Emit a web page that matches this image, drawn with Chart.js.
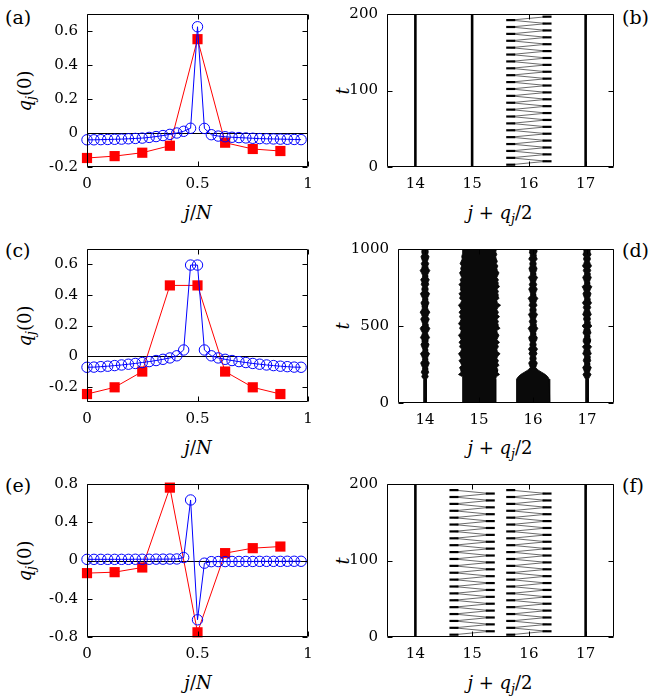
<!DOCTYPE html>
<html><head><meta charset="utf-8">
<script src="https://cdn.jsdelivr.net/npm/chart.js@4"></script>
<style>
html,body{margin:0;padding:0;background:#fff;}
#wrap{position:relative;width:656px;height:698px;overflow:hidden;background:#fff;font-family:'DejaVu Serif',serif;color:#000;}
.pl{position:absolute;font-size:19px;line-height:1;transform:translateY(-50%);white-space:nowrap;}
.yt{position:absolute;font-size:18px;line-height:1;transform:translate(-50%,-50%) rotate(-90deg);white-space:nowrap;}
.xt{position:absolute;font-size:18px;line-height:1;transform:translate(-50%,-50%);white-space:nowrap;}
sub{font-size:0.7em;vertical-align:-0.3em;line-height:0;}
</style></head>
<body>
<div id="wrap">
<div class="pl" style="left:5px;top:17px">(a)</div>
<div class="pl" style="left:622px;top:17px">(b)</div>
<div class="pl" style="left:5px;top:250px">(c)</div>
<div class="pl" style="left:622px;top:250px">(d)</div>
<div class="pl" style="left:5px;top:485px">(e)</div>
<div class="pl" style="left:622px;top:485px">(f)</div>
<div class="yt" style="left:25px;top:91px"><i>q<sub>j</sub></i>(0)</div>
<div class="yt" style="left:25px;top:326px"><i>q<sub>j</sub></i>(0)</div>
<div class="yt" style="left:25px;top:561px"><i>q<sub>j</sub></i>(0)</div>
<div class="yt" style="left:343px;top:91px"><i>t</i></div>
<div class="yt" style="left:343px;top:326px"><i>t</i></div>
<div class="yt" style="left:343px;top:561px"><i>t</i></div>
<div class="xt" style="left:198px;top:213px"><i>j</i>/<i>N</i></div>
<div class="xt" style="left:198px;top:448px"><i>j</i>/<i>N</i></div>
<div class="xt" style="left:198px;top:683px"><i>j</i>/<i>N</i></div>
<div class="xt" style="left:500px;top:213px"><i>j</i> + <i>q<sub>j</sub></i>/2</div>
<div class="xt" style="left:500px;top:448px"><i>j</i> + <i>q<sub>j</sub></i>/2</div>
<div class="xt" style="left:500px;top:683px"><i>j</i> + <i>q<sub>j</sub></i>/2</div>
</div>
<script>
// ---------------- DATA ----------------
// left column: initial profiles q_j(0) versus j/N
const xRed = [0, 0.125, 0.25, 0.375, 0.5, 0.625, 0.75, 0.875];
const xBlue = [0, 0.03125, 0.0625, 0.09375, 0.125, 0.15625, 0.1875, 0.21875, 0.25, 0.28125, 0.3125, 0.34375, 0.375, 0.40625, 0.4375, 0.46875,
               0.5, 0.53125, 0.5625, 0.59375, 0.625, 0.65625, 0.6875, 0.71875, 0.75, 0.78125, 0.8125, 0.84375, 0.875, 0.90625, 0.9375, 0.96875];

const aRed  = [-0.147, -0.136, -0.116, -0.075, 0.552, -0.057, -0.094, -0.106];
const aBlue = [-0.040, -0.040, -0.039, -0.038, -0.037, -0.036, -0.034, -0.032, -0.030, -0.026, -0.021, -0.015, -0.008, 0.000, 0.010, 0.028,
               0.625, 0.027, -0.010, -0.018, -0.022, -0.025, -0.027, -0.029, -0.031, -0.033, -0.034, -0.035, -0.036, -0.037, -0.038, -0.039];

const cRed  = [-0.248, -0.204, -0.101, 0.462, 0.462, -0.101, -0.204, -0.248];
const cBlue = [-0.073, -0.072, -0.069, -0.066, -0.062, -0.058, -0.053, -0.048, -0.042, -0.036, -0.029, -0.021, -0.012, 0.002, 0.040, 0.595,
               0.595, 0.040, 0.002, -0.012, -0.021, -0.029, -0.036, -0.042, -0.048, -0.053, -0.058, -0.062, -0.066, -0.069, -0.072, -0.073];

const eRed  = [-0.132, -0.122, -0.073, 0.762, -0.751, 0.077, 0.129, 0.146];
const eBlue = [0.012, 0.012, 0.012, 0.012, 0.012, 0.012, 0.012, 0.013, 0.013, 0.013, 0.014, 0.014, 0.015, 0.016, 0.031, 0.633,
               -0.620, -0.028, -0.012, -0.011, -0.011, -0.010, -0.010, -0.010, -0.010, -0.009, -0.009, -0.009, -0.009, -0.008, -0.008, -0.008];

const leftXTicks = [0, 0.5, 1];
const aYTicks = [-0.2, 0, 0.2, 0.4, 0.6];
const cYTicks = [-0.2, 0, 0.2, 0.4, 0.6];
const eYTicks = [-0.8, -0.4, 0, 0.4, 0.8];
const rightXTicks = [14, 15, 16, 17];
const bYTicks = [0, 100, 200];
const dYTicks = [0, 500, 1000];
const fYTicks = [0, 100, 200];

// right column: trajectories j + q_j/2 versus t
// (b) turning points of the oscillating site near 16
const bTurnT = [3, 7.5, 12, 16.5, 21, 25.5, 30, 34.5, 39, 43.5, 48, 52.5, 57, 61.5, 66, 70.5, 75, 79.5, 84, 88.5, 93, 97.5,
                102, 106.5, 111, 115.5, 120, 124.5, 129, 133.5, 138, 142.5, 147, 151.5, 156, 160.5, 165, 169.5, 174, 178.5, 183, 187.5, 192, 196.5];
const b16Extremes = [15.68, 16.32];
const bStill = [14, 15, 17];          // quiet sites
const bStillT = [0, 200];

// (f) turning points of the two oscillating sites near 15 and 16
const fTurnT = [3, 7.5, 12, 16.5, 21, 25.5, 30, 34.5, 39, 43.5, 48, 52.5, 57, 61.5, 66, 70.5, 75, 79.5, 84, 88.5, 93, 97.5,
                102, 106.5, 111, 115.5, 120, 124.5, 129, 133.5, 138, 142.5, 147, 151.5, 156, 160.5, 165, 169.5, 174, 178.5, 183, 187.5, 192];
const f15Extremes = [14.68, 15.32];
const f16Extremes = [15.68, 16.32];
const fStill = [14, 17];
const fStillT = [0, 200];

// (d) envelopes of the four sites over t = 0..1000
const dT = [0, 140, 155, 170, 185, 200, 215, 230, 245, 260, 275, 290, 305, 320, 335, 350, 365, 380, 395, 410, 425, 440, 455, 470, 485,
            500, 515, 530, 545, 560, 575, 590, 605, 620, 635, 650, 665, 680, 695, 710, 725, 740, 755, 770, 785, 800, 815, 830, 845, 860,
            875, 890, 905, 920, 935, 950, 965, 980, 995, 1000];
const d14HalfWidth = [0.025,0.025,0.025,0.06,0.045,0.07,0.05,0.045,0.065,0.08,
                      0.05,0.045,0.06,0.085,0.05,0.04,0.06,0.075,0.05,0.055,
                      0.085,0.06,0.045,0.07,0.09,0.055,0.045,0.06,0.08,0.05,
                      0.065,0.09,0.06,0.045,0.055,0.075,0.05,0.045,0.065,0.085,
                      0.05,0.06,0.045,0.07,0.055,0.08,0.05,0.045,0.065,0.09,
                      0.06,0.05,0.07,0.045,0.06,0.075,0.05,0.06,0.055,0.05];
const d15Left = [14.70,14.70,14.70,14.69,14.62,14.67,14.66,14.64,14.68,14.66,
                 14.63,14.67,14.65,14.62,14.66,14.68,14.64,14.66,14.63,14.67,
                 14.65,14.62,14.66,14.67,14.64,14.66,14.62,14.65,14.67,14.64,
                 14.66,14.63,14.67,14.65,14.62,14.66,14.68,14.64,14.66,14.63,
                 14.67,14.65,14.66,14.63,14.67,14.65,14.68,14.66,14.64,14.67,
                 14.66,14.68,14.65,14.67,14.69,14.68,14.69,14.70,14.69,14.70];
const d15Right = [15.31,15.31,15.31,15.32,15.38,15.34,15.35,15.33,15.37,15.34,
                  15.36,15.33,15.35,15.39,15.34,15.33,15.36,15.34,15.38,15.33,
                  15.35,15.37,15.34,15.33,15.39,15.35,15.34,15.36,15.33,15.38,
                  15.34,15.36,15.33,15.35,15.40,15.34,15.33,15.37,15.35,15.34,
                  15.36,15.33,15.38,15.35,15.34,15.36,15.33,15.35,15.37,15.34,
                  15.33,15.35,15.32,15.34,15.32,15.31,15.33,15.31,15.32,15.31];
const d16HalfWidth = [0.31,0.31,0.30,0.275,0.23,0.16,0.09,0.05,0.065,0.08,
                      0.05,0.06,0.045,0.075,0.055,0.085,0.05,0.06,0.045,0.07,
                      0.08,0.05,0.045,0.065,0.09,0.055,0.05,0.07,0.045,0.06,
                      0.085,0.05,0.06,0.045,0.075,0.05,0.065,0.09,0.05,0.045,
                      0.06,0.08,0.05,0.07,0.045,0.06,0.085,0.05,0.045,0.065,
                      0.075,0.05,0.06,0.045,0.08,0.055,0.05,0.07,0.06,0.05];
const d17HalfWidth = [0.025,0.025,0.025,0.05,0.075,0.045,0.06,0.08,0.05,0.045,
                      0.07,0.055,0.045,0.08,0.06,0.05,0.085,0.045,0.06,0.07,
                      0.05,0.045,0.075,0.06,0.05,0.09,0.055,0.045,0.065,0.05,
                      0.08,0.06,0.045,0.07,0.05,0.085,0.055,0.045,0.06,0.075,
                      0.05,0.065,0.09,0.05,0.045,0.06,0.08,0.055,0.045,0.07,
                      0.05,0.085,0.06,0.045,0.065,0.05,0.075,0.055,0.06,0.05];
const dCenters = {s14: 14.0, s16: 16.0, s17: 17.0};

// ---------------- HELPERS ----------------
const FONT = {family: "'DejaVu Serif', serif", size: 15};

const framePlugin = {
  id: 'frame',
  beforeDatasetsDraw(chart, args, opts) {
    if (!opts.zero) return;
    const {ctx, chartArea: a} = chart;
    const y = Math.round(chart.scales.y.getPixelForValue(0)) + 0.5;
    ctx.save();
    ctx.strokeStyle = '#000'; ctx.lineWidth = 1;
    ctx.beginPath(); ctx.moveTo(a.left, y); ctx.lineTo(a.right, y); ctx.stroke();
    ctx.restore();
  },
  afterDatasetsDraw(chart) {
    const {ctx, chartArea: a, scales} = chart;
    const L = Math.round(a.left) + 0.5, R = Math.round(a.right) - 0.5;
    const T = Math.round(a.top) + 0.5, B = Math.round(a.bottom) - 0.5;
    const len = 5;
    ctx.save();
    ctx.strokeStyle = '#000'; ctx.lineWidth = 1;
    ctx.beginPath();
    ctx.rect(L, T, R - L, B - T);
    scales.x.ticks.forEach(t => {
      const p = Math.round(scales.x.getPixelForValue(t.value)) + 0.5;
      ctx.moveTo(p, B); ctx.lineTo(p, B - len);
      ctx.moveTo(p, T); ctx.lineTo(p, T + len);
    });
    scales.y.ticks.forEach(t => {
      const p = Math.round(scales.y.getPixelForValue(t.value)) + 0.5;
      ctx.moveTo(L, p); ctx.lineTo(L + len, p);
      ctx.moveTo(R, p); ctx.lineTo(R - len, p);
    });
    ctx.stroke();
    ctx.restore();
  }
};

function scaleCfg(axis, min, max, tickVals, size) {
  return {
    type: 'linear', min, max,
    grid: {display: false, drawTicks: false},
    border: {display: false},
    afterBuildTicks: s => { s.ticks = tickVals.map(v => ({value: v})); },
    afterFit: s => {
      if (axis === 'x') s.height = size; else s.width = size;
      s.paddingLeft = 0; s.paddingRight = 0; s.paddingTop = 0; s.paddingBottom = 0;
    },
    ticks: {autoSkip: false, maxRotation: 0, minRotation: 0, padding: axis === 'x' ? 8 : 9,
            color: '#000', font: FONT, callback: v => String(v)}
  };
}

function makeChart(g, xr, yr, xTicks, yTicks, datasets, zero) {
  const W = g.yW + g.w + 12, H = 10 + g.h + 30;
  const cv = document.createElement('canvas');
  cv.width = W; cv.height = H;
  cv.style.cssText = `position:absolute;left:${g.l - g.yW}px;top:${g.t - 10}px;width:${W}px;height:${H}px;`;
  document.getElementById('wrap').appendChild(cv);
  return new Chart(cv, {
    type: 'line',
    data: {datasets},
    options: {
      responsive: false, animation: false, events: [],
      layout: {padding: {top: 10, right: 12, left: 0, bottom: 0}},
      plugins: {legend: {display: false}, tooltip: {enabled: false}, frame: {zero}},
      scales: {
        x: scaleCfg('x', xr[0], xr[1], xTicks, 30),
        y: scaleCfg('y', yr[0], yr[1], yTicks, g.yW)
      }
    },
    plugins: [framePlugin]
  });
}

function blueSet(vals) {
  return {data: xBlue.map((x, i) => ({x, y: vals[i]})), borderColor: '#0000ff', borderWidth: 1,
          pointStyle: 'circle', pointRadius: 5.2, pointBorderColor: '#0000ff', pointBorderWidth: 1,
          pointBackgroundColor: 'rgba(0,0,0,0)', backgroundColor: 'rgba(0,0,0,0)', fill: false, tension: 0, clip: false};
}
function redSet(vals) {
  return {data: xRed.map((x, i) => ({x, y: vals[i]})), borderColor: '#ff0000', borderWidth: 1,
          pointStyle: 'rect', pointRadius: 7.2, pointBorderColor: '#ff0000', pointBorderWidth: 0,
          pointBackgroundColor: '#ff0000', backgroundColor: '#ff0000', fill: false, tension: 0, clip: false};
}
function stillSet(xv, tRange) {
  return {data: tRange.map(t => ({x: xv, y: t})), borderColor: '#000', borderWidth: 2.6,
          pointRadius: 0, fill: false, tension: 0};
}
function oscSet(turnT, ext) {
  return {data: turnT.map((t, i) => ({x: ext[i % 2], y: t})), borderColor: '#444', borderWidth: 0.8,
          pointStyle: 'line', pointRadius: 4.5, pointBorderColor: '#000', pointBorderWidth: 2.2,
          pointBackgroundColor: '#000', fill: false, tension: 0};
}
function envSet(left, right) {
  const pts = dT.map((t, i) => ({x: left[i], y: t}));
  for (let i = dT.length - 1; i >= 0; i--) pts.push({x: right[i], y: dT[i]});
  return {data: pts, borderColor: '#000', borderWidth: 0.8, pointRadius: 0, fill: 'shape',
          backgroundColor: '#0a0a0a', tension: 0};
}

// ---------------- PANELS ----------------
const geo = {
  a: {l: 87, t: 14, w: 221, h: 153, yW: 60},
  b: {l: 387, t: 14, w: 227, h: 153, yW: 50},
  c: {l: 87, t: 249, w: 221, h: 153, yW: 60},
  d: {l: 398, t: 249, w: 216, h: 154, yW: 60},
  e: {l: 87, t: 484, w: 221, h: 153, yW: 60},
  f: {l: 387, t: 484, w: 227, h: 153, yW: 50}
};

makeChart(geo.a, [0, 1], [-0.2, 0.7], leftXTicks, aYTicks, [blueSet(aBlue), redSet(aRed)], true);
makeChart(geo.c, [0, 1], [-0.3, 0.7], leftXTicks, cYTicks, [blueSet(cBlue), redSet(cRed)], true);
makeChart(geo.e, [0, 1], [-0.8, 0.8], leftXTicks, eYTicks, [blueSet(eBlue), redSet(eRed)], true);

makeChart(geo.b, [13.5, 17.5], [0, 200], rightXTicks, bYTicks,
  [...bStill.map(x => stillSet(x, bStillT)), oscSet(bTurnT, b16Extremes)], false);

makeChart(geo.f, [13.5, 17.5], [0, 200], rightXTicks, fYTicks,
  [...fStill.map(x => stillSet(x, fStillT)), oscSet(fTurnT, f15Extremes), oscSet(fTurnT, f16Extremes)], false);

makeChart(geo.d, [13.5, 17.5], [0, 1000], rightXTicks, dYTicks, [
  envSet(d14HalfWidth.map(h => dCenters.s14 - h), d14HalfWidth.map(h => dCenters.s14 + h)),
  envSet(d15Left, d15Right),
  envSet(d16HalfWidth.map(h => dCenters.s16 - h), d16HalfWidth.map(h => dCenters.s16 + h)),
  envSet(d17HalfWidth.map(h => dCenters.s17 - h), d17HalfWidth.map(h => dCenters.s17 + h))
], false);
</script>
</body></html>
